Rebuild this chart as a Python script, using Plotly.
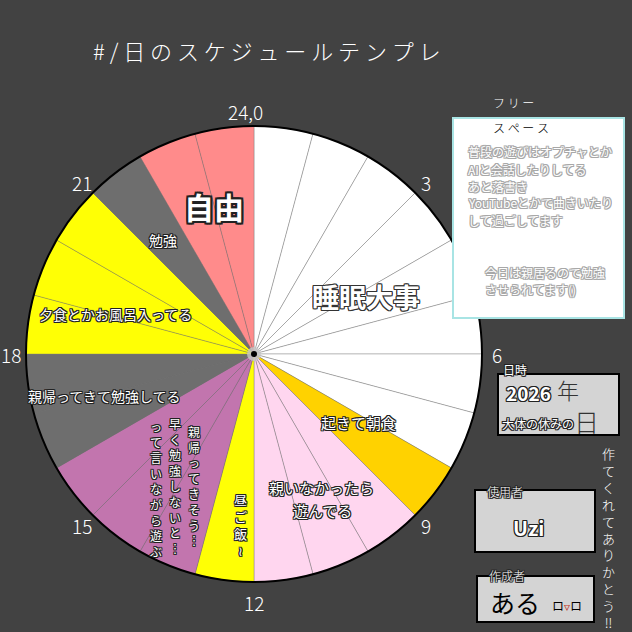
import math
import plotly.graph_objects as go

# ---------------- data ----------------
activities = ["睡眠大事", "起きて朝食", "親いなかったら遊んでる", "昼ご飯〜",
              "親帰ってきそう…早く勉強しないと…って言いながら遊ぶ",
              "親帰ってきて勉強してる", "夕食とかお風呂入ってる", "勉強", "自由"]
durations = [8, 1, 3, 1, 3, 2, 3, 1, 2]          # hours, starting at 0:00
act_colors = ["#FFFFFF", "#FFD200", "#FFD6EF", "#FFFF05", "#C275AE",
              "#6E6E6E", "#FFFF05", "#6E6E6E", "#FF8B8B"]

hour_ticks = [0, 3, 6, 9, 12, 15, 18, 21]
hour_tick_labels = ["24,0", "3", "6", "9", "12", "15", "18", "21"]

title_text = "#/日のスケジュールテンプレ"

# expand to one slice per hour
slice_vals, slice_cols, slice_names = [], [], []
for name, d, c in zip(activities, durations, act_colors):
    for i in range(d):
        slice_vals.append(1)
        slice_cols.append(c)
        slice_names.append(name)

W = H = 632
CX, CY, R = 254, 354, 228
BG = "#424242"
FONT = "Noto Sans CJK JP"


def px(x):
    return x / W


def py(y):
    return 1 - y / H


def outline(col, w=1):
    d = []
    for dx in (-w, 0, w):
        for dy in (-w, 0, w):
            if dx or dy:
                d.append(f"{dx}px {dy}px 0 {col}")
    return ",".join(d)


annotations = []


def ann(text, x, y, size, color="white", shadow=None, weight=None, xanchor="center", yanchor="middle"):
    f = dict(family=FONT, size=size, color=color)
    if shadow:
        f["shadow"] = shadow
    if weight:
        f["weight"] = weight
    annotations.append(dict(text=text, x=px(x), y=py(y), xref="paper", yref="paper",
                            showarrow=False, font=f, xanchor=xanchor, yanchor=yanchor))


def vert(s):
    return "<br>".join(list(s))


fig = go.Figure()
fig.add_trace(go.Pie(
    values=slice_vals, labels=[f"{i}" for i in range(len(slice_vals))],
    text=slice_names, sort=False, direction="clockwise", rotation=0,
    marker=dict(colors=slice_cols, line=dict(color="rgba(120,120,120,0.4)", width=1)),
    textinfo="none", hoverinfo="text", showlegend=False,
    domain=dict(x=[px(CX - R), px(CX + R)], y=[py(CY + R), py(CY - R)]),
))

shapes = [
    dict(type="circle", xref="paper", yref="paper",
         x0=px(CX - R), x1=px(CX + R), y0=py(CY + R), y1=py(CY - R),
         line=dict(color="black", width=2), fillcolor="rgba(0,0,0,0)"),
    dict(type="circle", xref="paper", yref="paper",
         x0=px(CX - 7), x1=px(CX + 7), y0=py(CY + 7), y1=py(CY - 7),
         line=dict(width=0), fillcolor="rgba(200,200,200,0.8)"),
    dict(type="circle", xref="paper", yref="paper",
         x0=px(CX - 3), x1=px(CX + 3), y0=py(CY + 3), y1=py(CY - 3),
         line=dict(width=0), fillcolor="black"),
    # free space box
    dict(type="rect", xref="paper", yref="paper", x0=px(453), x1=px(624), y0=py(318), y1=py(118),
         line=dict(color="#A8E4E4", width=2), fillcolor="white"),
    # date box
    dict(type="rect", xref="paper", yref="paper", x0=px(498), x1=px(619), y0=py(435), y1=py(374),
         line=dict(color="black", width=2), fillcolor="#D4D4D4"),
    # user box
    dict(type="rect", xref="paper", yref="paper", x0=px(475), x1=px(595), y0=py(552), y1=py(490),
         line=dict(color="black", width=2), fillcolor="#D4D4D4"),
    # creator box
    dict(type="rect", xref="paper", yref="paper", x0=px(477), x1=px(594), y0=py(622), y1=py(576),
         line=dict(color="black", width=2), fillcolor="#D4D4D4"),
]

# title
ann(" ".join(list(title_text)), 267, 50, 22, weight=300)

# hour labels around the clock
for h, lab in zip(hour_ticks, hour_tick_labels):
    a = math.radians(h / 24 * 360)
    rr = 243
    x = CX + rr * math.sin(a)
    y = CY - rr * math.cos(a)
    if h == 0:
        x -= 9
    if h == 12:
        y += 5
    ann(lab, x, y, 19, weight=300)

dark = outline("#222", 1)
ann("自由", 214, 206, 30, shadow=outline("#222", 2), weight=700)
ann("睡眠大事", 366, 296, 27, shadow=outline("#333", 1), weight=700)
ann("勉強", 163, 240, 14, shadow=dark)
ann("夕食とかお風呂入ってる", 115, 314, 14, shadow=dark)
ann("親帰ってきて勉強してる", 104, 396, 14, shadow=dark)
ann("起きて朝食", 358, 422, 15, shadow=dark)
ann("親いなかったら", 321, 487, 15, shadow=dark)
ann("遊んでる", 322, 510, 15, shadow=dark)
ann(vert("昼ご飯≀"), 240, 525, 13, shadow=dark)
ann(vert("親帰ってきそう︙"), 194, 486, 12, shadow=dark)
ann(vert("早く勉強しないと︙"), 175, 486, 12, shadow=dark)
ann(vert("って言いながら遊ぶ"), 156, 489, 12, shadow=dark)

# free space
ann("フ リ ー", 513, 103, 12, weight=300)
ann("ス ペ ー ス", 521, 128, 12, color="black", weight=300)
light = outline("#a8a8a8", 1)
free_lines = ["普段の遊びはオプチャとか", "AIと会話したりしてる", "あと落書き",
              "YouTubeとかで曲きいたり", "して過ごしてます"]
for i, t in enumerate(free_lines):
    ann(t, 466, 152 + i * 17, 12, shadow=light, xanchor="left")
ann("今日は親居るので勉強", 483, 272, 12, shadow=light, xanchor="left")
ann("させられてます()", 483, 289, 12, shadow=light, xanchor="left")

# date box
ann("日時", 515, 369, 12, shadow=dark)
ann("2026", 528, 392, 19, shadow=dark, weight=700)
ann("年", 568, 389, 22, color="#333", weight=300)
ann("大体の休みの", 538, 423, 12, shadow=dark)
ann("日", 586, 421, 25, color="#333", weight=300)

# user box
ann("使用者", 505, 491, 12, shadow=dark, weight=300)
ann("Uzi", 528, 527, 20, shadow=dark, weight=700)

# creator box
ann("作成者", 507, 575, 12, shadow=dark, weight=300)
ann("ある", 515, 602, 25, color="black")
ann("ロ<span style='color:#c0392b'>▿</span>ロ", 567, 605, 12, color="black")

# right vertical thanks
ann(vert("作てくれてありかとう") + "<br>‼", 608, 538, 13, weight=300)

fig.update_layout(
    width=W, height=H, margin=dict(l=0, r=0, t=0, b=0),
    paper_bgcolor=BG, plot_bgcolor=BG,
    shapes=shapes, annotations=annotations,
)
fig.write_html("out.html")
